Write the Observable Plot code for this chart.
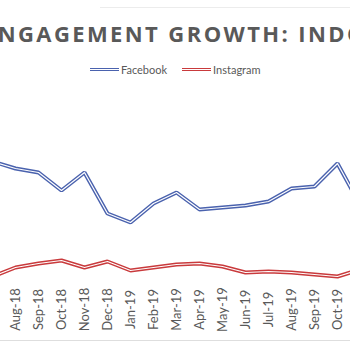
<!DOCTYPE html>
<html>
<head>
<meta charset="utf-8">
<script src="https://cdn.jsdelivr.net/npm/d3@7"></script>
<script src="https://cdn.jsdelivr.net/npm/@observablehq/plot@0.6"></script>
<style>
  html, body { margin: 0; padding: 0; background: #fff; }
  body { width: 350px; height: 350px; overflow: hidden; position: relative; font-family: Lato, "Open Sans", sans-serif; }
  #topline { position: absolute; left: 100px; top: 7px; width: 260px; height: 0; border-top: 1px solid #ececec; }
  #title { position: absolute; left: -17px; top: 18px; white-space: nowrap; font-family: "Open Sans", sans-serif; font-weight: 700; font-size: 22px; letter-spacing: 2.4px; color: #595959; }
  #legend { position: absolute; left: 90px; top: 63px; display: flex; align-items: center; font-size: 11px; color: #595959; white-space: nowrap; }
  .sw { display: inline-block; width: 29px; height: 1px; margin-right: 2px; }
  .item { display: flex; align-items: center; margin-right: 15px; }
  #chart { position: absolute; left: -30px; top: 90px; width: 420px; height: 250px; }
  #chart svg { max-width: none !important; }
  #bottomline { position: absolute; left: 0; top: 340px; width: 350px; border-top: 1px solid #dedede; }
</style>
</head>
<body>
<div id="topline"></div>
<div id="title">ENGAGEMENT GROWTH: INDONESIA</div>
<div id="legend"></div>
<div id="chart"></div>
<div id="bottomline"></div>
<script>
const months = ["Jul-18","Aug-18","Sep-18","Oct-18","Nov-18","Dec-18","Jan-19","Feb-19","Mar-19","Apr-19","May-19","Jun-19","Jul-19","Aug-19","Sep-19","Oct-19","Nov-19"];
const visibleTicks = ["Aug-18","Sep-18","Oct-18","Nov-18","Dec-18","Jan-19","Feb-19","Mar-19","Apr-19","May-19","Jun-19","Jul-19","Aug-19","Sep-19","Oct-19"];
const facebook = [122,115,111,93,111,70,61,80,91,74,76,78,82,95,97,120,78];
const instagram = [7,16,20,23,16,22,13,16,19,20,17,11,12,11,9,7,14];
const seriesNames = ["Facebook","Instagram"];
const seriesColors = ["#4a62ae","#c93a3c"];

const rows = [];
months.forEach((m, i) => {
  rows.push({month: m, series: "Facebook", value: facebook[i]});
  rows.push({month: m, series: "Instagram", value: instagram[i]});
});

const legend = document.getElementById("legend");
seriesNames.forEach((s, i) => {
  const it = document.createElement("div");
  it.className = "item";
  const sw = document.createElement("span");
  sw.className = "sw";
  sw.style.borderTop = "1.5px solid " + seriesColors[i];
  sw.style.borderBottom = "1.5px solid " + seriesColors[i];
  it.appendChild(sw);
  it.appendChild(document.createTextNode(s));
  legend.appendChild(it);
});

const color = {domain: seriesNames, range: seriesColors};
const chart = Plot.plot({
  width: 420,
  height: 250,
  marginLeft: 18,
  marginRight: 27,
  marginTop: 0,
  marginBottom: 57,
  style: {fontFamily: "Lato, 'Open Sans', sans-serif", fontSize: "13px", color: "#595959", background: "transparent", overflow: "visible", maxWidth: "none"},
  x: {type: "point", domain: months, padding: 0},
  y: {domain: [0, 193], axis: null},
  color,
  marks: [
    Plot.axisX({ticks: visibleTicks, tickSize: 0, tickRotate: -90, tickPadding: 26, textAnchor: "middle", lineAnchor: "middle", label: null, fill: "#595959", fontSize: 13}),
    Plot.line(rows, {x: "month", y: "value", z: "series", stroke: "series", strokeWidth: 4, strokeLinejoin: "miter"}),
    Plot.line(rows, {x: "month", y: "value", z: "series", stroke: "#ffffff", strokeWidth: 1.2, strokeLinejoin: "miter"})
  ]
});
document.getElementById("chart").appendChild(chart);
</script>
</body>
</html>
